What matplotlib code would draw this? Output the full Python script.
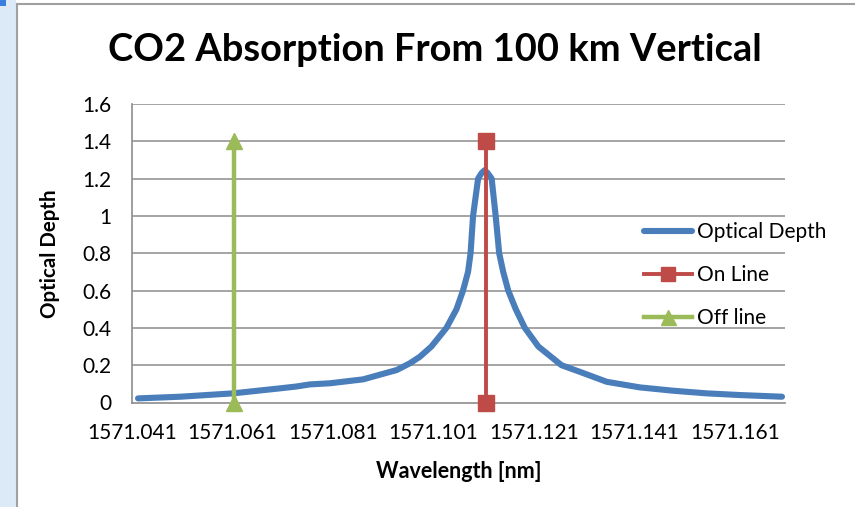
import matplotlib
matplotlib.use("Agg")
import matplotlib.pyplot as plt
from matplotlib.patches import Rectangle
from matplotlib.lines import Line2D

plt.rcParams['font.family'] = ['Lato', 'DejaVu Sans']

# ---- data ----
wavelength = [1571.0422, 1571.0506, 1571.0611, 1571.0705, 1571.0738, 1571.0764,
              1571.0804, 1571.0870, 1571.0937, 1571.0963, 1571.0983, 1571.1006,
              1571.1036, 1571.1056, 1571.1069, 1571.1079, 1571.1084, 1571.1089,
              1571.1094, 1571.1099, 1571.1106, 1571.1112, 1571.1118, 1571.1126,
              1571.1130, 1571.1134, 1571.1141, 1571.1149, 1571.1159, 1571.1174,
              1571.1192, 1571.1219, 1571.1265, 1571.1301, 1571.1355, 1571.1421,
              1571.1488, 1571.1554, 1571.1620, 1571.1704]
optical_depth = [0.022, 0.031, 0.049, 0.076, 0.086, 0.097,
                 0.103, 0.124, 0.174, 0.21, 0.245, 0.30,
                 0.40, 0.50, 0.60, 0.70, 0.80, 1.00,
                 1.10, 1.20, 1.23, 1.245, 1.23, 1.20,
                 1.10, 1.00, 0.80, 0.70, 0.60, 0.50,
                 0.40, 0.30, 0.20, 0.165, 0.111, 0.081,
                 0.063, 0.049, 0.040, 0.031]
on_line_x = [1571.1114, 1571.1114]
on_line_y = [0.0, 1.4]
off_line_x = [1571.0614, 1571.0614]
off_line_y = [0.0, 1.4]

x_ticks = [1571.041, 1571.061, 1571.081, 1571.101, 1571.121, 1571.141, 1571.161]
x_tick_labels = ["1571.041", "1571.061", "1571.081", "1571.101", "1571.121", "1571.141", "1571.161"]
y_ticks = [0, 0.2, 0.4, 0.6, 0.8, 1.0, 1.2, 1.4, 1.6]
y_tick_labels = ["0", "0.2", "0.4", "0.6", "0.8", "1", "1.2", "1.4", "1.6"]

BLUE = "#4A7EBB"
RED = "#BE4B48"
GREEN = "#9BBB59"
GRID = "#8C8C8C"

fig = plt.figure(figsize=(8.55, 5.07), dpi=100)
fig.patch.set_facecolor("white")

# slide-like decoration: left blue strip and border lines
fig.patches.append(Rectangle((0, 0), 16/855, 1, transform=fig.transFigure,
                             facecolor="#DCEAF8", edgecolor="none", zorder=0))
fig.add_artist(Line2D([16.5/855, 16.5/855], [0, 1 - 4/507], transform=fig.transFigure,
                      color="#A0A0A0", lw=1.5))
fig.add_artist(Line2D([16.5/855, 1], [1 - 4/507, 1 - 4/507], transform=fig.transFigure,
                      color="#A0A0A0", lw=1.5))
fig.patches.append(Rectangle((0, 1 - 6/507), 6/855, 6/507, transform=fig.transFigure,
                             facecolor="#3A7FE0", edgecolor="none", zorder=1))

ax = fig.add_axes([132/855, 1 - 402.5/507, 653/855, 298.5/507])
ax.set_xlim(1571.041, 1571.171)
ax.set_ylim(0, 1.6)

for y in y_ticks[1:]:
    ax.axhline(y, color=GRID, lw=1.1, zorder=1)

ax.plot(wavelength, optical_depth, color=BLUE, lw=4.4, solid_capstyle="round",
        solid_joinstyle="round", zorder=3, label="Optical Depth")
ax.plot(on_line_x, on_line_y, color=RED, lw=2.8, marker="s", markersize=11.5,
        zorder=4, label="On Line", clip_on=False)
ax.plot(off_line_x, off_line_y, color=GREEN, lw=3.2, marker="^", markersize=12,
        zorder=4, label="Off line", clip_on=False)

for side in ["top", "right"]:
    ax.spines[side].set_visible(False)
for side in ["left", "bottom"]:
    ax.spines[side].set_color(GRID)
    ax.spines[side].set_linewidth(1.2)

ax.set_xticks(x_ticks)
ax.set_xticklabels(x_tick_labels, fontsize=15)
ax.set_yticks(y_ticks)
ax.set_yticklabels(y_tick_labels, fontsize=15)
ax.tick_params(axis="both", length=0, colors="black")
ax.tick_params(axis="x", pad=15)
ax.tick_params(axis="y", pad=15)

ax.set_xlabel("Wavelength [nm]", fontsize=15.5, fontweight="bold", labelpad=13)
ax.set_ylabel("Optical Depth", fontsize=14.8, fontweight="bold", labelpad=16)

fig.text(435/855, 1 - 50/507, "CO2 Absorption From 100 km Vertical", fontsize=27.4,
         fontweight="bold", ha="center", va="center")

leg = ax.legend(loc="upper left", bbox_to_anchor=(634/855, 1 - 212/507),
                bbox_transform=fig.transFigure, frameon=False, fontsize=15,
                handlelength=2.3, handletextpad=0.2, labelspacing=1.1,
                borderpad=0, markerscale=0.9)

fig.savefig("out.png", dpi=100)
